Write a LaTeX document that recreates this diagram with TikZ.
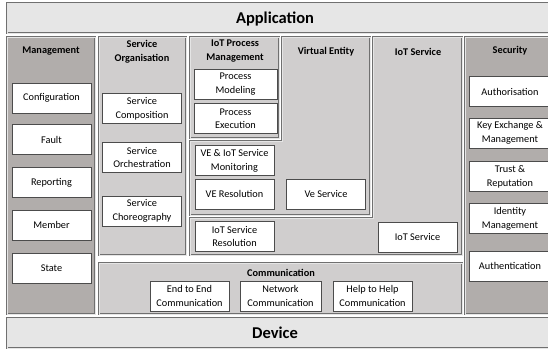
\documentclass[tikz,border=0pt]{standalone}
\usepackage{fontspec}
\setmainfont{Carlito}
\usepackage{xcolor}
\usepackage{tikz}
\usetikzlibrary{positioning}

\definecolor{layerfill}{HTML}{E6E6E6}
\definecolor{sidefill}{HTML}{B1ADAB}
\definecolor{midfill}{HTML}{D0CECE}
\definecolor{edgegray}{HTML}{707070}

\begin{document}
\begin{tikzpicture}[
    x=1pt, y=-1pt,
    panel/.style={draw=edgegray, double=white!90!black, double distance=0.6pt, line width=0.5pt},
    layer/.style={panel, fill=layerfill},
    side/.style={panel, fill=sidefill},
    mid/.style={panel, fill=midfill},
    box/.style={rectangle, draw=black!70, fill=white, line width=0.8pt, minimum width=79pt, minimum height=30pt, inner sep=1pt, align=center, font=\fontsize{10.3}{13.8}\selectfont},
    title/.style={align=center, inner sep=0pt, font=\bfseries\fontsize{10.3}{13.8}\selectfont},
    big/.style={inner sep=0pt, font=\bfseries\fontsize{16.5}{19}\selectfont}
  ]
    \useasboundingbox (0,0) rectangle (548,349);
    \clip (0,0) rectangle (548,349);

    % Panels
    \draw[layer] (7,3) rectangle (560,33);
    \draw[side] (7,37) rectangle (95,314);
    \draw[mid] (99,37) rectangle (186,255);
    \draw[mid] (190,37) rectangle (279,138);
    \draw[mid] (282,37) -- (370,37) -- (370,215) -- (190,215) -- (190,141) -- (282,141) -- cycle;
    \draw[mid] (373,37) -- (462,37) -- (462,255) -- (190,255) -- (190,218) -- (373,218) -- cycle;
    \draw[mid] (99,263) rectangle (462,314);
    \draw[side] (465,37) rectangle (560,314);
    \draw[layer] (7,318) rectangle (560,348);

    % Titles
    \node[big] (app) at (275,19) {Application};
    \node[big] (dev) at (275,333) {Device};
    \node[title] (mgmt) at (51,51) {Management};
    \node[title] (sorg) at (142,52) {Service\\Organisation};
    \node[title] (ipm) at (235,51) {IoT Process\\Management};
    \node[title] (ve) at (326,52) {Virtual Entity};
    \node[title] (ios) at (418,52) {IoT Service};
    \node[title] (sec) at (510,51) {Security};
    \node[title] (comm) at (281,273) {Communication};

    % Management
    \node[box] (config) at (51.5,98) {Configuration};
    \node[box, below=11pt of config] (fault) {Fault};
    \node[box, below=12pt of fault] (report) {Reporting};
    \node[box, below=12pt of report] (member) {Member};
    \node[box, below=12pt of member] (state) {State};

    % Service organisation
    \node[box] (compose) at (142,108.5) {Service\\Composition};
    \node[box] (orchest) at (142,157.5) {Service\\Orchestration};
    \node[box] (choreo) at (142,211) {Service\\Choreography};

    % IoT process management
    \node[box, minimum width=83pt] (model) at (235.5,84) {Process\\Modeling};
    \node[box, minimum width=83pt, below=4pt of model] (exec) {Process\\Execution};

    % Virtual entity and IoT service
    \node[box] (monitor) at (234.5,160.5) {VE \& IoT Service\\Monitoring};
    \node[box] (veres) at (234.5,194) {VE Resolution};
    \node[box] (veserv) at (326,194) {Ve Service};
    \node[box] (iotres) at (234.5,236.5) {IoT Service\\Resolution};
    \node[box] (iotserv) at (417.5,237) {IoT Service};

    % Communication
    \node[box] (e2e) at (189.5,296) {End to End\\Communication};
    \node[box, minimum width=81pt] (network) at (280.5,296) {Network\\Communication};
    \node[box] (h2h) at (372.5,296) {Help to Help\\Communication};

    % Security
    \node[box, minimum width=82pt] (authz) at (510,91.5) {Authorisation};
    \node[box, minimum width=82pt] (keyex) at (510,133) {Key Exchange \&\\Management};
    \node[box, minimum width=82pt] (trust) at (510,176.5) {Trust \&\\Reputation};
    \node[box, minimum width=82pt] (ident) at (510,218.5) {Identity\\Management};
    \node[box, minimum width=82pt] (authn) at (510,266) {Authentication};
  \end{tikzpicture}
\end{document}
